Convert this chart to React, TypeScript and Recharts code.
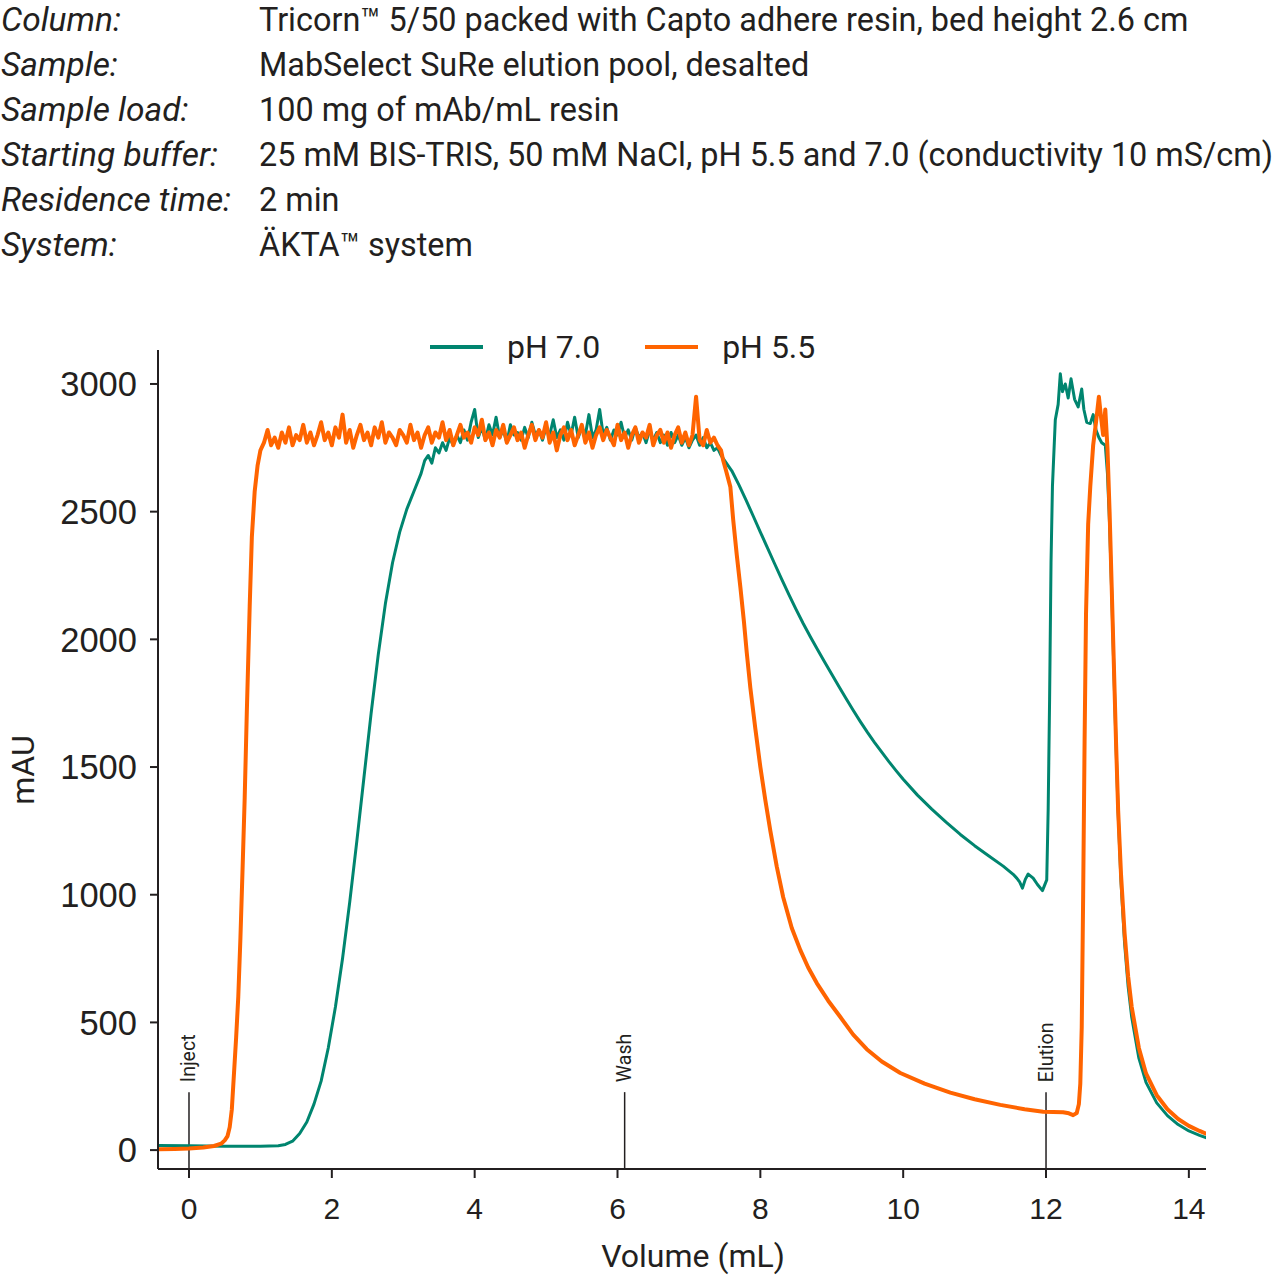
import React from 'react';
import { LineChart, Line, XAxis, YAxis, ReferenceLine, Legend } from 'recharts';

const TEXT = '#231f20';
const GREEN = '#00856f';
const ORANGE = '#ff6400';

const infoLabels = ['Column:', 'Sample:', 'Sample load:', 'Starting buffer:', 'Residence time:', 'System:'];
const infoValues = [
  'Tricorn™ 5/50 packed with Capto adhere resin, bed height 2.6 cm',
  'MabSelect SuRe elution pool, desalted',
  '100 mg of mAb/mL resin',
  '25 mM BIS-TRIS, 50 mM NaCl, pH 5.5 and 7.0 (conductivity 10 mS/cm)',
  '2 min',
  'ÄKTA™ system',
];

const xTicks = [0, 2, 4, 6, 8, 10, 12, 14];
const yTicks = [0, 500, 1000, 1500, 2000, 2500, 3000];
const seriesNames = ['pH 7.0', 'pH 5.5'];
const markerNames = ['Inject', 'Wash', 'Elution'];
const markerVolumes = [0, 6.1, 12.0];
const xLabel = 'Volume (mL)';
const yLabel = 'mAU';

// pH 7.0 trace: [volume mL, mAU]
const pH70Points: [number, number][] = [
  [-0.43, 18], [0, 17], [0.5, 15], [1.0, 15], [1.25, 17], [1.35, 22], [1.45, 35], [1.55, 65],
  [1.65, 110], [1.75, 180], [1.85, 270], [1.95, 400], [2.05, 560], [2.15, 750], [2.25, 970],
  [2.35, 1210], [2.45, 1460], [2.55, 1710], [2.65, 1940], [2.75, 2140], [2.85, 2300], [2.95, 2420],
  [3.05, 2510], [3.15, 2580], [3.25, 2650], [3.3, 2700],
  [3.35, 2720], [3.4, 2690], [3.45, 2750], [3.5, 2730], [3.55, 2770], [3.6, 2740], [3.65, 2790],
  [3.7, 2760], [3.75, 2800], [3.8, 2770], [3.85, 2820], [3.9, 2780], [3.95, 2850], [4.0, 2900],
  [4.05, 2790], [4.1, 2830], [4.15, 2780], [4.2, 2840], [4.25, 2800], [4.3, 2870], [4.35, 2790],
  [4.4, 2820], [4.45, 2770], [4.5, 2840], [4.55, 2800], [4.6, 2810], [4.65, 2780], [4.7, 2830],
  [4.75, 2790], [4.8, 2850], [4.85, 2800], [4.9, 2820], [4.95, 2780], [5.0, 2830], [5.05, 2800],
  [5.1, 2860], [5.15, 2790], [5.2, 2820], [5.25, 2780], [5.3, 2850], [5.35, 2800], [5.4, 2870],
  [5.45, 2790], [5.5, 2830], [5.55, 2800], [5.6, 2880], [5.65, 2790], [5.7, 2820], [5.75, 2900],
  [5.8, 2800], [5.85, 2830], [5.9, 2780], [5.95, 2820], [6.0, 2800], [6.05, 2850], [6.1, 2790],
  [6.15, 2820], [6.2, 2780], [6.25, 2830], [6.3, 2790], [6.35, 2810], [6.4, 2770], [6.45, 2820],
  [6.5, 2780], [6.55, 2810], [6.6, 2770], [6.65, 2800], [6.7, 2760], [6.75, 2810], [6.8, 2770],
  [6.85, 2800], [6.9, 2760], [6.95, 2790], [7.0, 2750], [7.05, 2780], [7.1, 2800], [7.15, 2760],
  [7.2, 2790], [7.25, 2750], [7.3, 2770], [7.35, 2740], [7.4, 2750], [7.45, 2720],
  [7.5, 2700], [7.6, 2660], [7.7, 2605], [7.8, 2545], [7.9, 2483], [8.0, 2420], [8.1, 2358],
  [8.2, 2296], [8.3, 2235], [8.4, 2175], [8.5, 2117], [8.6, 2062], [8.7, 2010], [8.8, 1960],
  [8.9, 1911], [9.0, 1863], [9.1, 1815], [9.2, 1768], [9.3, 1722], [9.4, 1678], [9.5, 1636],
  [9.6, 1596], [9.7, 1558], [9.8, 1521], [9.9, 1486], [10.0, 1452], [10.2, 1390], [10.4, 1335],
  [10.6, 1284], [10.8, 1236], [11.0, 1192], [11.2, 1152], [11.4, 1112], [11.54, 1080],
  [11.59, 1065], [11.63, 1050], [11.67, 1026], [11.71, 1060], [11.75, 1081], [11.82, 1065],
  [11.88, 1040], [11.95, 1016], [12.01, 1058], [12.03, 1332], [12.05, 1763], [12.07, 2300],
  [12.09, 2600], [12.13, 2860], [12.17, 2920], [12.2, 3040], [12.23, 2970], [12.27, 3000],
  [12.31, 2945], [12.35, 3020], [12.4, 2940], [12.45, 2910], [12.5, 2980], [12.53, 2900],
  [12.57, 2850], [12.62, 2845], [12.66, 2880], [12.7, 2820], [12.74, 2790], [12.78, 2770],
  [12.83, 2760], [12.86, 2650], [12.89, 2450], [12.92, 2180], [12.95, 1880], [12.98, 1590],
  [13.01, 1320], [13.05, 1050], [13.1, 810], [13.15, 640], [13.2, 520], [13.3, 360], [13.4, 265],
  [13.55, 185], [13.7, 135], [13.85, 100], [14.0, 75], [14.15, 58], [14.25, 48],
];

// pH 5.5 trace: [volume mL, mAU]
const pH55Points: [number, number][] = [
  [-0.43, 3], [-0.2, 4], [0, 6], [0.2, 10], [0.35, 16], [0.45, 25], [0.5, 38], [0.54, 55],
  [0.57, 90], [0.6, 160], [0.63, 300], [0.66, 440], [0.69, 600], [0.72, 830], [0.75, 1100],
  [0.78, 1380], [0.81, 1720], [0.85, 2130], [0.88, 2400], [0.92, 2580], [0.96, 2680], [1.0, 2740],
  [1.05, 2770], [1.1, 2820], [1.15, 2760], [1.2, 2790], [1.25, 2750], [1.3, 2810], [1.35, 2770],
  [1.4, 2830], [1.45, 2760], [1.5, 2800], [1.55, 2780], [1.6, 2840], [1.65, 2770], [1.7, 2810],
  [1.75, 2760], [1.8, 2800], [1.85, 2850], [1.9, 2780], [1.95, 2810], [2.0, 2760], [2.05, 2830],
  [2.1, 2790], [2.15, 2880], [2.2, 2770], [2.25, 2820], [2.3, 2750], [2.35, 2800], [2.4, 2840],
  [2.45, 2780], [2.5, 2810], [2.55, 2760], [2.6, 2830], [2.65, 2790], [2.7, 2850], [2.75, 2770],
  [2.8, 2810], [2.85, 2790], [2.9, 2760], [2.95, 2820], [3.0, 2800], [3.05, 2770], [3.1, 2840],
  [3.15, 2780], [3.2, 2810], [3.25, 2750], [3.3, 2800], [3.35, 2830], [3.4, 2770], [3.45, 2810],
  [3.5, 2790], [3.55, 2850], [3.6, 2780], [3.65, 2820], [3.7, 2760], [3.75, 2800], [3.8, 2840],
  [3.85, 2790], [3.9, 2810], [3.95, 2770], [4.0, 2830], [4.05, 2800], [4.1, 2860], [4.15, 2780],
  [4.2, 2810], [4.25, 2760], [4.3, 2820], [4.35, 2790], [4.4, 2840], [4.45, 2770], [4.5, 2800],
  [4.55, 2830], [4.6, 2780], [4.65, 2810], [4.7, 2750], [4.75, 2800], [4.8, 2840], [4.85, 2780],
  [4.9, 2820], [4.95, 2790], [5.0, 2850], [5.05, 2770], [5.1, 2810], [5.15, 2740], [5.2, 2800],
  [5.25, 2830], [5.3, 2780], [5.35, 2820], [5.4, 2760], [5.45, 2800], [5.5, 2840], [5.55, 2770],
  [5.6, 2810], [5.65, 2750], [5.7, 2800], [5.75, 2830], [5.8, 2780], [5.85, 2820], [5.9, 2790],
  [5.95, 2760], [6.0, 2840], [6.05, 2780], [6.1, 2810], [6.15, 2750], [6.2, 2800], [6.25, 2830],
  [6.3, 2770], [6.35, 2810], [6.4, 2790], [6.45, 2840], [6.5, 2760], [6.55, 2800], [6.6, 2820],
  [6.65, 2770], [6.7, 2810], [6.75, 2750], [6.8, 2800], [6.85, 2830], [6.9, 2770], [6.95, 2810],
  [7.0, 2760], [7.05, 2800], [7.1, 2950], [7.15, 2780], [7.2, 2760], [7.25, 2820], [7.3, 2770],
  [7.35, 2790], [7.4, 2760], [7.45, 2740],
  [7.48, 2700], [7.52, 2660], [7.58, 2597], [7.62, 2468], [7.67, 2330], [7.72, 2205],
  [7.77, 2070], [7.81, 1947], [7.86, 1810], [7.93, 1650], [8.0, 1500], [8.07, 1370],
  [8.14, 1250], [8.23, 1110], [8.32, 990], [8.44, 870], [8.56, 783], [8.67, 715], [8.79, 654],
  [8.95, 585], [9.12, 521], [9.3, 452], [9.49, 395], [9.7, 347], [9.96, 302], [10.3, 260],
  [10.66, 225], [11.0, 199], [11.36, 177], [11.7, 160], [11.96, 150], [12.24, 148],
  [12.32, 144], [12.38, 137], [12.43, 145], [12.46, 180], [12.48, 260], [12.5, 480],
  [12.52, 1000], [12.54, 1600], [12.56, 2100], [12.59, 2450], [12.62, 2600], [12.66, 2760],
  [12.7, 2850], [12.74, 2950], [12.77, 2870], [12.8, 2800], [12.83, 2900], [12.86, 2750],
  [12.89, 2500], [12.92, 2200], [12.95, 1900], [12.98, 1600], [13.01, 1330], [13.05, 1080],
  [13.1, 850], [13.15, 680], [13.2, 560], [13.3, 400], [13.4, 300], [13.55, 215], [13.7, 160],
  [13.85, 122], [14.0, 95], [14.15, 75], [14.25, 63],
];

const toRows = (pts: [number, number][]) => pts.map(([x, y]) => ({ x, y }));
const series = [
  { name: seriesNames[0], data: toRows(pH70Points), color: GREEN, width: 3 },
  { name: seriesNames[1], data: toRows(pH55Points), color: ORANGE, width: 4 },
];

const X_DOMAIN: [number, number] = [-0.434, 14.24];
const Y_DOMAIN: [number, number] = [-74, 3133];

const MarkerLabel = (props: any) => {
  const vb = props.viewBox || {};
  const x = vb.x ?? 0;
  const y = (vb.y ?? 0) - 10;
  return (
    <text
      x={x}
      y={y}
      transform={`rotate(-90 ${x} ${y})`}
      textAnchor="start"
      dominantBaseline="central"
      fontFamily="Roboto"
      fontSize={19.5}
      fill={TEXT}
    >
      {props.value}
    </text>
  );
};

const LegendContent = (props: any) => {
  const payload = [...(props.payload || [])].sort(
    (a: any, b: any) => seriesNames.indexOf(a.value) - seriesNames.indexOf(b.value)
  );
  return (
    <div style={{ display: 'flex', alignItems: 'center', fontFamily: 'Roboto', fontSize: 32, color: TEXT }}>
      {payload.map((p: any, i: number) => (
        <div key={i} style={{ display: 'flex', alignItems: 'center', marginRight: i === 0 ? 45 : 0 }}>
          <svg width={53} height={8} style={{ display: 'block' }}>
            <line x1={0} y1={4} x2={53} y2={4} stroke={p.color} strokeWidth={4} />
          </svg>
          <span style={{ marginLeft: 24, lineHeight: '40px' }}>{p.value}</span>
        </div>
      ))}
    </div>
  );
};

export default function App() {
  return (
    <div style={{ position: 'absolute', left: 0, top: 0, width: 1278, height: 1277, background: '#fff', overflow: 'hidden' }}>
      {infoLabels.map((lab, i) => (
        <div
          key={lab}
          style={{
            position: 'absolute', top: -2.5 + 45 * i, height: 44, lineHeight: '44px', left: 1,
            fontFamily: 'Roboto', fontStyle: 'italic', fontSize: 33.5, color: TEXT, whiteSpace: 'nowrap',
          }}
        >
          {lab}
        </div>
      ))}
      {infoValues.map((val, i) => (
        <div
          key={i}
          style={{
            position: 'absolute', top: -2.5 + 45 * i, height: 44, lineHeight: '44px', left: 259,
            fontFamily: 'Roboto', fontSize: 32.4, color: TEXT, whiteSpace: 'nowrap',
          }}
        >
          {val}
        </div>
      ))}
      <div style={{ position: 'absolute', left: 0, top: 0 }}>
        <LineChart width={1278} height={1277} margin={{ top: 350, right: 72, bottom: 8, left: 0 }}>
          <XAxis
            type="number"
            dataKey="x"
            domain={X_DOMAIN}
            allowDataOverflow
            ticks={xTicks}
            interval={0}
            height={100}
            tickSize={9}
            tickMargin={20}
            axisLine={{ stroke: TEXT, strokeWidth: 2 }}
            tickLine={{ stroke: TEXT, strokeWidth: 2 }}
            tick={{ fill: TEXT, fontSize: 30, fontFamily: 'Liberation Sans' }}
            label={{ value: xLabel, position: 'insideBottom', offset: 2, dx: 11, fill: TEXT, fontSize: 32, fontFamily: 'Roboto' }}
          />
          <YAxis
            type="number"
            domain={Y_DOMAIN}
            allowDataOverflow
            ticks={yTicks}
            interval={0}
            width={158}
            tickSize={8}
            tickMargin={13}
            axisLine={{ stroke: TEXT, strokeWidth: 2 }}
            tickLine={{ stroke: TEXT, strokeWidth: 2 }}
            tick={{ fill: TEXT, fontSize: 34.5, fontFamily: 'Liberation Sans' }}
            label={{
              content: () => (
                <text x={34} y={770} transform="rotate(-90 34 770)" textAnchor="middle" fontFamily="Roboto" fontSize={32} fill={TEXT}>
                  {yLabel}
                </text>
              ),
            }}
          />
          <Legend
            verticalAlign="middle"
            align="center"
            layout="horizontal"
            content={LegendContent}
            wrapperStyle={{ position: 'absolute', top: 327, left: 430, width: 420, height: 40 }}
          />
          {markerVolumes.map((v, i) => (
            <ReferenceLine
              key={markerNames[i]}
              segment={[{ x: v, y: Y_DOMAIN[0] }, { x: v, y: 227 }]}
              stroke={TEXT}
              strokeWidth={1.5}
              ifOverflow="visible"
              label={{ value: markerNames[i], content: MarkerLabel }}
            />
          ))}
          {series.map((s) => (
            <Line
              key={s.name}
              name={s.name}
              data={s.data}
              dataKey="y"
              type="linear"
              stroke={s.color}
              strokeWidth={s.width}
              strokeLinejoin="round"
              dot={false}
              activeDot={false}
              isAnimationActive={false}
            />
          ))}
        </LineChart>
      </div>
    </div>
  );
}
